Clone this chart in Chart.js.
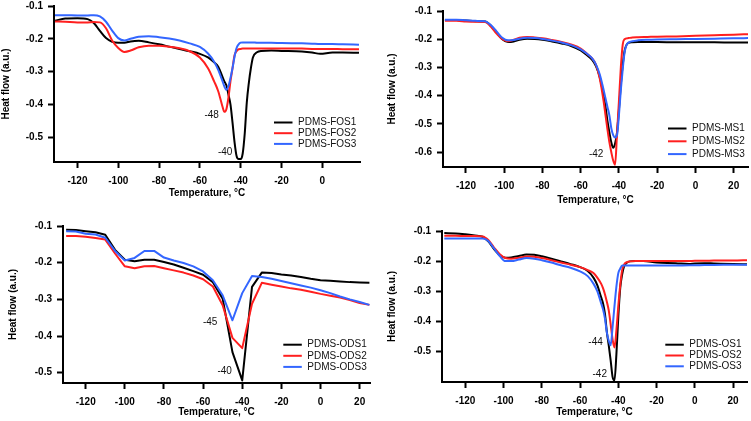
<!DOCTYPE html>
<html>
<head>
<meta charset="utf-8">
<script src="https://cdn.jsdelivr.net/npm/chart.js@4/dist/chart.umd.min.js"></script>
<style>
  body { margin: 0; background: #fff; width: 751px; height: 421px; overflow: hidden; position: relative; }
  canvas { position: absolute; }
</style>
</head>
<body>
<script>
// ---- data ----
const xTicks = [-120, -100, -80, -60, -40, -20, 0, 20];
const yTicksA = [-0.1, -0.2, -0.3, -0.4, -0.5];
const yTicksB = [-0.1, -0.2, -0.3, -0.4, -0.5, -0.6];

// PDMS-FOS
const fosNames = ['PDMS-FOS1', 'PDMS-FOS2', 'PDMS-FOS3'];
const fosT = [-131,-126,-120,-115,-112,-109,-106,-103,-100,-97,-94,-90,-85,-80,-75,-70,-65,-60,-56,-53,-51,-49,-48,-47,-46,-45,-44,-43,-42,-41,-40,-39,-38,-37,-36,-35,-34,-32,-30,-25,-20,-10,-5,-1,5,10,18];
const fos1 = [-0.145,-0.138,-0.137,-0.140,-0.152,-0.176,-0.198,-0.209,-0.212,-0.212,-0.208,-0.206,-0.211,-0.217,-0.224,-0.231,-0.238,-0.246,-0.257,-0.272,-0.285,-0.315,-0.330,-0.342,-0.370,-0.400,-0.455,-0.515,-0.558,-0.567,-0.567,-0.550,-0.489,-0.395,-0.335,-0.290,-0.257,-0.241,-0.237,-0.236,-0.237,-0.239,-0.242,-0.246,-0.242,-0.242,-0.243];
const fos2 = [-0.147,-0.148,-0.150,-0.150,-0.149,-0.150,-0.168,-0.205,-0.228,-0.240,-0.236,-0.226,-0.221,-0.221,-0.224,-0.229,-0.238,-0.257,-0.290,-0.330,-0.360,-0.405,-0.423,-0.415,-0.380,-0.330,-0.290,-0.250,-0.238,-0.232,-0.231,-0.230,-0.230,-0.230,-0.230,-0.230,-0.230,-0.230,-0.230,-0.230,-0.230,-0.230,-0.231,-0.231,-0.231,-0.232,-0.232];
const fos3 = [-0.128,-0.128,-0.129,-0.129,-0.128,-0.132,-0.148,-0.175,-0.198,-0.205,-0.200,-0.194,-0.192,-0.195,-0.199,-0.205,-0.214,-0.225,-0.245,-0.270,-0.295,-0.328,-0.345,-0.356,-0.345,-0.320,-0.290,-0.255,-0.228,-0.217,-0.212,-0.211,-0.211,-0.211,-0.211,-0.211,-0.211,-0.212,-0.212,-0.212,-0.213,-0.214,-0.215,-0.216,-0.216,-0.217,-0.218];
const fosNotes = [{text: '-48', t: -54.2, v: -0.433}, {text: '-40', t: -47.6, v: -0.545}];

// PDMS-MS
const msNames = ['PDMS-MS1', 'PDMS-MS2', 'PDMS-MS3'];
const msT = [-131,-125,-120,-115,-110,-107,-104,-101,-98,-95,-92,-88,-84,-80,-75,-70,-65,-60,-57,-54,-52,-50,-48,-47,-46,-45,-44,-43,-42,-41,-40,-39,-38,-37,-36,-35,-33,-30,-25,-20,-10,0,10,20,28];
const ms1 = [-0.132,-0.132,-0.134,-0.136,-0.137,-0.152,-0.176,-0.200,-0.210,-0.208,-0.202,-0.198,-0.199,-0.202,-0.208,-0.215,-0.224,-0.240,-0.255,-0.273,-0.295,-0.335,-0.400,-0.440,-0.490,-0.530,-0.565,-0.585,-0.570,-0.530,-0.450,-0.360,-0.290,-0.240,-0.220,-0.213,-0.211,-0.210,-0.210,-0.210,-0.211,-0.211,-0.211,-0.212,-0.212];
const ms2 = [-0.135,-0.135,-0.137,-0.138,-0.139,-0.155,-0.180,-0.200,-0.207,-0.202,-0.195,-0.192,-0.194,-0.197,-0.203,-0.210,-0.219,-0.233,-0.250,-0.268,-0.290,-0.340,-0.420,-0.470,-0.520,-0.565,-0.600,-0.630,-0.645,-0.535,-0.420,-0.300,-0.218,-0.200,-0.197,-0.196,-0.194,-0.193,-0.192,-0.191,-0.190,-0.188,-0.186,-0.184,-0.182];
const ms3 = [-0.131,-0.131,-0.133,-0.135,-0.136,-0.150,-0.172,-0.195,-0.204,-0.203,-0.198,-0.195,-0.196,-0.199,-0.205,-0.212,-0.221,-0.236,-0.250,-0.268,-0.290,-0.325,-0.380,-0.410,-0.440,-0.470,-0.515,-0.540,-0.548,-0.540,-0.470,-0.380,-0.305,-0.245,-0.220,-0.212,-0.207,-0.204,-0.202,-0.201,-0.200,-0.199,-0.198,-0.197,-0.196];
const msNotes = [{text: '-42', t: -51.9, v: -0.607}];

// PDMS-ODS
const odsNames = ['PDMS-ODS1', 'PDMS-ODS2', 'PDMS-ODS3'];
const odsT = [-130,-125,-120,-115,-110,-105,-100,-95,-90,-85,-80,-75,-70,-65,-60,-55,-50,-45,-40,-35,-30,-25,-20,-15,-10,-5,0,5,10,15,20,25];
const ods1 = [-0.110,-0.111,-0.114,-0.117,-0.124,-0.165,-0.192,-0.196,-0.192,-0.192,-0.198,-0.205,-0.214,-0.223,-0.233,-0.253,-0.298,-0.444,-0.521,-0.266,-0.227,-0.228,-0.232,-0.235,-0.239,-0.244,-0.248,-0.249,-0.251,-0.253,-0.254,-0.255];
const ods2 = [-0.127,-0.127,-0.129,-0.133,-0.137,-0.175,-0.210,-0.215,-0.210,-0.209,-0.215,-0.221,-0.227,-0.235,-0.245,-0.265,-0.316,-0.405,-0.433,-0.312,-0.255,-0.260,-0.265,-0.270,-0.274,-0.279,-0.285,-0.290,-0.295,-0.302,-0.310,-0.315];
const ods3 = [-0.114,-0.115,-0.121,-0.123,-0.132,-0.168,-0.194,-0.187,-0.168,-0.168,-0.186,-0.194,-0.201,-0.210,-0.224,-0.248,-0.289,-0.357,-0.283,-0.236,-0.239,-0.244,-0.250,-0.256,-0.262,-0.268,-0.275,-0.283,-0.292,-0.300,-0.307,-0.315];
const odsNotes = [{text: '-45', t: -56.4, v: -0.362}, {text: '-40', t: -49, v: -0.496}];

// PDMS-OS
const osNames = ['PDMS-OS1', 'PDMS-OS2', 'PDMS-OS3'];
const osT = [-131,-125,-120,-115,-111,-108,-105,-102,-99,-96,-92,-88,-84,-80,-75,-70,-65,-60,-56,-53,-51,-49,-48,-47,-46,-45,-44,-43,-42,-41,-40,-39,-38,-37,-36,-34,-31,-27,-20,-10,-3,0,5,10,20,28];
const os1 = [-0.107,-0.108,-0.111,-0.115,-0.119,-0.134,-0.160,-0.180,-0.189,-0.188,-0.183,-0.178,-0.179,-0.184,-0.192,-0.201,-0.210,-0.220,-0.233,-0.255,-0.280,-0.320,-0.340,-0.375,-0.435,-0.480,-0.530,-0.585,-0.597,-0.510,-0.385,-0.290,-0.245,-0.218,-0.208,-0.201,-0.200,-0.200,-0.205,-0.207,-0.210,-0.208,-0.207,-0.208,-0.210,-0.211];
const os2 = [-0.116,-0.116,-0.117,-0.117,-0.118,-0.130,-0.155,-0.177,-0.190,-0.192,-0.189,-0.185,-0.186,-0.190,-0.197,-0.205,-0.212,-0.220,-0.230,-0.240,-0.255,-0.275,-0.290,-0.310,-0.335,-0.364,-0.410,-0.460,-0.487,-0.430,-0.350,-0.280,-0.230,-0.212,-0.205,-0.201,-0.200,-0.200,-0.200,-0.200,-0.200,-0.199,-0.199,-0.198,-0.198,-0.197];
const os3 = [-0.125,-0.125,-0.125,-0.125,-0.125,-0.133,-0.158,-0.183,-0.200,-0.200,-0.195,-0.190,-0.192,-0.197,-0.205,-0.214,-0.222,-0.234,-0.250,-0.275,-0.300,-0.340,-0.360,-0.390,-0.437,-0.465,-0.480,-0.420,-0.350,-0.285,-0.240,-0.225,-0.215,-0.215,-0.215,-0.215,-0.215,-0.215,-0.215,-0.215,-0.214,-0.214,-0.213,-0.213,-0.212,-0.212];
const osNotes = [{text: '-44', t: -51.9, v: -0.471}, {text: '-42', t: -49.7, v: -0.577}];

const colors = ['#000000', '#ff1f1f', '#3366ff'];
const FONT = '"Liberation Sans", Arial, Helvetica, sans-serif';
Chart.defaults.font.family = FONT;
Chart.defaults.color = '#000';

// legend inside the plot + peak temperature labels
const panelDeco = {
  id: 'panelDeco',
  afterDraw(chart, args, opts) {
    const {ctx, chartArea: a, scales} = chart;
    ctx.save();
    ctx.font = '10px ' + FONT;
    ctx.textBaseline = 'middle';
    ctx.fillStyle = '#111';
    ctx.textAlign = 'center';
    (opts.notes || []).forEach(n => {
      ctx.fillText(n.text, scales.x.getPixelForValue(n.t), scales.y.getPixelForValue(n.v));
    });
    ctx.textAlign = 'left';
    const lg = opts.legend;
    chart.data.datasets.forEach((ds, i) => {
      const yy = a.bottom - lg.bottom + i * lg.gap;
      const x0 = a.right - lg.right;
      ctx.strokeStyle = ds.borderColor;
      ctx.lineWidth = 2;
      ctx.beginPath();
      ctx.moveTo(x0, yy);
      ctx.lineTo(x0 + 18.5, yy);
      ctx.stroke();
      ctx.fillStyle = '#111';
      ctx.fillText(ds.label, x0 + 24, yy);
    });
    ctx.restore();
  }
};

function drawPanel(p) {
  const cv = document.createElement('canvas');
  cv.width = p.box.w;
  cv.height = p.box.h;
  cv.style.left = p.box.x + 'px';
  cv.style.top = p.box.y + 'px';
  document.body.appendChild(cv);
  const a = p.area, b = p.box;
  const xH = p.xTitleOff + 6;
  new Chart(cv, {
    type: 'line',
    data: {
      datasets: p.series.map((vals, i) => ({
        label: p.names[i],
        data: p.temps.map((t, j) => ({x: t, y: vals[j]})),
        borderColor: colors[i],
        borderWidth: 2,
        borderJoinStyle: 'round',
        pointRadius: 0,
        fill: false,
        tension: p.smooth ? 0.4 : 0,
        cubicInterpolationMode: p.smooth ? 'monotone' : 'default',
        order: 3 - i
      }))
    },
    options: {
      responsive: false,
      animation: false,
      events: [],
      layout: {
        padding: {
          left: 0,
          top: a.t - b.y,
          right: b.x + b.w - a.r,
          bottom: b.y + b.h - (a.b + xH)
        }
      },
      scales: {
        x: {
          type: 'linear',
          min: p.xr[0], max: p.xr[1],
          afterBuildTicks: s => { s.ticks = xTicks.filter(v => v >= p.xr[0] && v <= p.xr[1]).map(v => ({value: v})); },
          afterFit: s => { s.height = xH; },
          grid: {display: true, drawOnChartArea: false, drawTicks: true, tickLength: 6, tickWidth: 2, tickColor: '#000'},
          border: {display: true, color: '#000', width: 2},
          ticks: {color: '#000', font: {size: 10, weight: 'bold'}, padding: 7.5, maxRotation: 0, autoSkip: false,
                  callback: v => String(v)},
          title: {display: true, text: 'Temperature, °C', color: '#000', font: {size: 10, weight: 'bold'}, padding: 0}
        },
        y: {
          type: 'linear',
          min: p.yr[0], max: p.yr[1],
          afterBuildTicks: s => { s.ticks = p.yTicks.map(v => ({value: v})); },
          afterFit: s => { s.width = a.l - b.x; },
          grid: {display: true, drawOnChartArea: false, drawTicks: true, tickLength: 6, tickWidth: 2, tickColor: '#000'},
          border: {display: true, color: '#000', width: 2},
          ticks: {color: '#000', font: {size: 10, weight: 'bold'}, padding: 5, autoSkip: false,
                  callback: v => v.toFixed(1)},
          title: {display: true, text: 'Heat flow (a.u.)', color: '#000', font: {size: 10, weight: 'bold'},
                  padding: {top: (a.l - b.x) - p.yTitleOff - 6, bottom: 0}}
        }
      },
      plugins: {
        legend: {display: false},
        tooltip: {enabled: false},
        panelDeco: {legend: p.legend, notes: p.notes}
      }
    },
    plugins: [panelDeco]
  });
}

drawPanel({
  box: {x: 0, y: -5, w: 375, h: 215}, area: {l: 54, t: 5, r: 360, b: 162},
  xr: [-131.5, 18.5], yr: [-0.576, -0.1], yTicks: yTicksA,
  xTitleOff: 31, yTitleOff: 48,
  temps: fosT, series: [fos1, fos2, fos3], names: fosNames, smooth: true,
  legend: {right: 86, bottom: 39.5, gap: 10.7}, notes: fosNotes
});
drawPanel({
  box: {x: 375, y: 0, w: 376, h: 210}, area: {l: 443, t: 8, r: 748, b: 167},
  xr: [-132, 27.5], yr: [-0.653, -0.1], yTicks: yTicksB,
  xTitleOff: 33, yTitleOff: 50.4,
  temps: msT, series: [ms1, ms2, ms3], names: msNames, smooth: true,
  legend: {right: 80, bottom: 38.5, gap: 12.8}, notes: msNotes
});
drawPanel({
  box: {x: 0, y: 210, w: 375, h: 211}, area: {l: 63, t: 226, r: 370, b: 383},
  xr: [-131.6, 25.3], yr: [-0.528, -0.1], yTicks: yTicksA,
  xTitleOff: 29.5, yTitleOff: 50,
  temps: odsT, series: [ods1, ods2, ods3], names: odsNames, smooth: false,
  legend: {right: 86.7, bottom: 38.3, gap: 11.1}, notes: odsNotes
});
drawPanel({
  box: {x: 375, y: 210, w: 376, h: 211}, area: {l: 442, t: 231, r: 747, b: 382},
  xr: [-132.2, 27.3], yr: [-0.602, -0.1], yTicks: yTicksA,
  xTitleOff: 30.5, yTitleOff: 49.4,
  temps: osT, series: [os1, os2, os3], names: osNames, smooth: true,
  legend: {right: 81.7, bottom: 37.3, gap: 10.8}, notes: osNotes
});
</script>
</body>
</html>
